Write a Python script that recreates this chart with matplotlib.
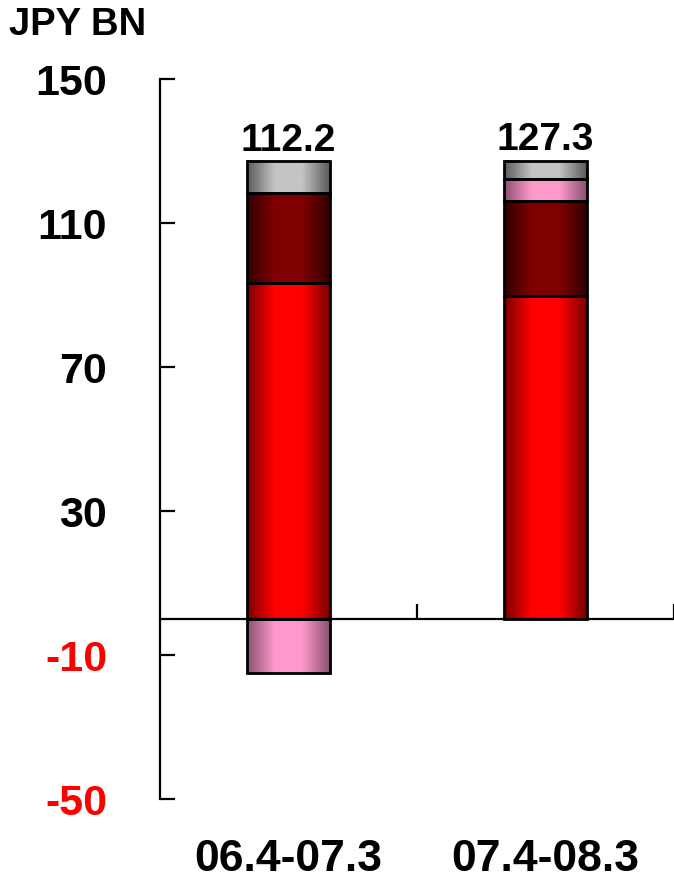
#!/usr/bin/env python3
"""Stacked bar chart: JPY BN by period, with shaded (gradient) bar segments."""

import numpy as np
import matplotlib
matplotlib.use("Agg")
import matplotlib.pyplot as plt
from matplotlib.colors import LinearSegmentedColormap
from matplotlib.transforms import blended_transform_factory

plt.rcParams["font.family"] = ["Liberation Sans", "DejaVu Sans"]
plt.rcParams["font.weight"] = "bold"

periods = ["06.4-07.3", "07.4-08.3"]
red_part = [93.3, 89.8]
darkred_part = [25.0, 26.3]
pink_part = [-15.0, 6.0]
gray_part = [8.9, 5.2]
totals = ["112.2", "127.3"]
y_ticks = [150, 110, 70, 30, -10, -50]

# (edge colour, centre colour) for each segment
shades = {
    "red": ("#7a0000", "#ff0000"),
    "darkred": ("#300000", "#800000"),
    "pink": ("#8a5070", "#ff99cc"),
    "gray": ("#5a5a5a", "#c4c4c4"),
}


def shaded_bar(ax, x, bottom, height, width, shade):
    edge, centre = shades[shade]
    cmap = LinearSegmentedColormap.from_list(shade, [edge, centre, centre, edge])
    grad = np.linspace(0, 1, 256).reshape(1, -1)
    ax.imshow(grad, cmap=cmap, aspect="auto", interpolation="bilinear",
              extent=(x - width / 2, x + width / 2, bottom, bottom + height),
              zorder=2)
    ax.bar(x, height, width, bottom=bottom, fill=False, edgecolor="black",
           linewidth=2, zorder=3)


fig = plt.figure(figsize=(6.74, 8.79), dpi=100)
ax = fig.add_axes([0.2374, 0.0899, 0.7626, 0.8191])

width = 0.32
for i, period in enumerate(periods):
    x = i + 0.5
    pos_bottom = 0.0
    stack = [("red", red_part[i]), ("darkred", darkred_part[i]),
             ("pink", pink_part[i]), ("gray", gray_part[i])]
    for shade, value in stack:
        if value >= 0:
            shaded_bar(ax, x, pos_bottom, value, width, shade)
            pos_bottom += value
        else:
            shaded_bar(ax, x, value, -value, width, shade)
    ax.annotate(totals[i], (x, pos_bottom), xytext=(0, 2.5),
                textcoords="offset points", ha="center", va="bottom",
                fontsize=28, fontweight="bold")

ax.set_xlim(0, 2)
ax.set_ylim(-50, 150)

ax.spines["top"].set_visible(False)
ax.spines["right"].set_visible(False)
ax.spines["left"].set_linewidth(1.6)
ax.spines["bottom"].set_position(("data", 0))
ax.spines["bottom"].set_linewidth(1.6)

ax.set_yticks(y_ticks)
ax.set_yticklabels([str(t) for t in y_ticks])
ax.tick_params(axis="y", direction="in", length=11, width=1.6, pad=38,
               labelsize=31)
for label, tick in zip(ax.get_yticklabels(), y_ticks):
    label.set_fontweight("bold")
    if tick < 0:
        label.set_color("#ff0000")

ax.set_xticks([1, 2])
ax.set_xticklabels([])
ax.tick_params(axis="x", direction="in", length=11, width=1.6)

trans = blended_transform_factory(ax.transData, ax.transAxes)
for i, period in enumerate(periods):
    ax.text(i + 0.5, -0.083, period, transform=trans, ha="center",
            va="center", fontsize=32, fontweight="bold")

fig.text(0.014, 0.9716, "JPY BN", ha="left", va="center", fontsize=27.5,
         fontweight="bold")

fig.savefig("out.png", dpi=100)
plt.close(fig)
